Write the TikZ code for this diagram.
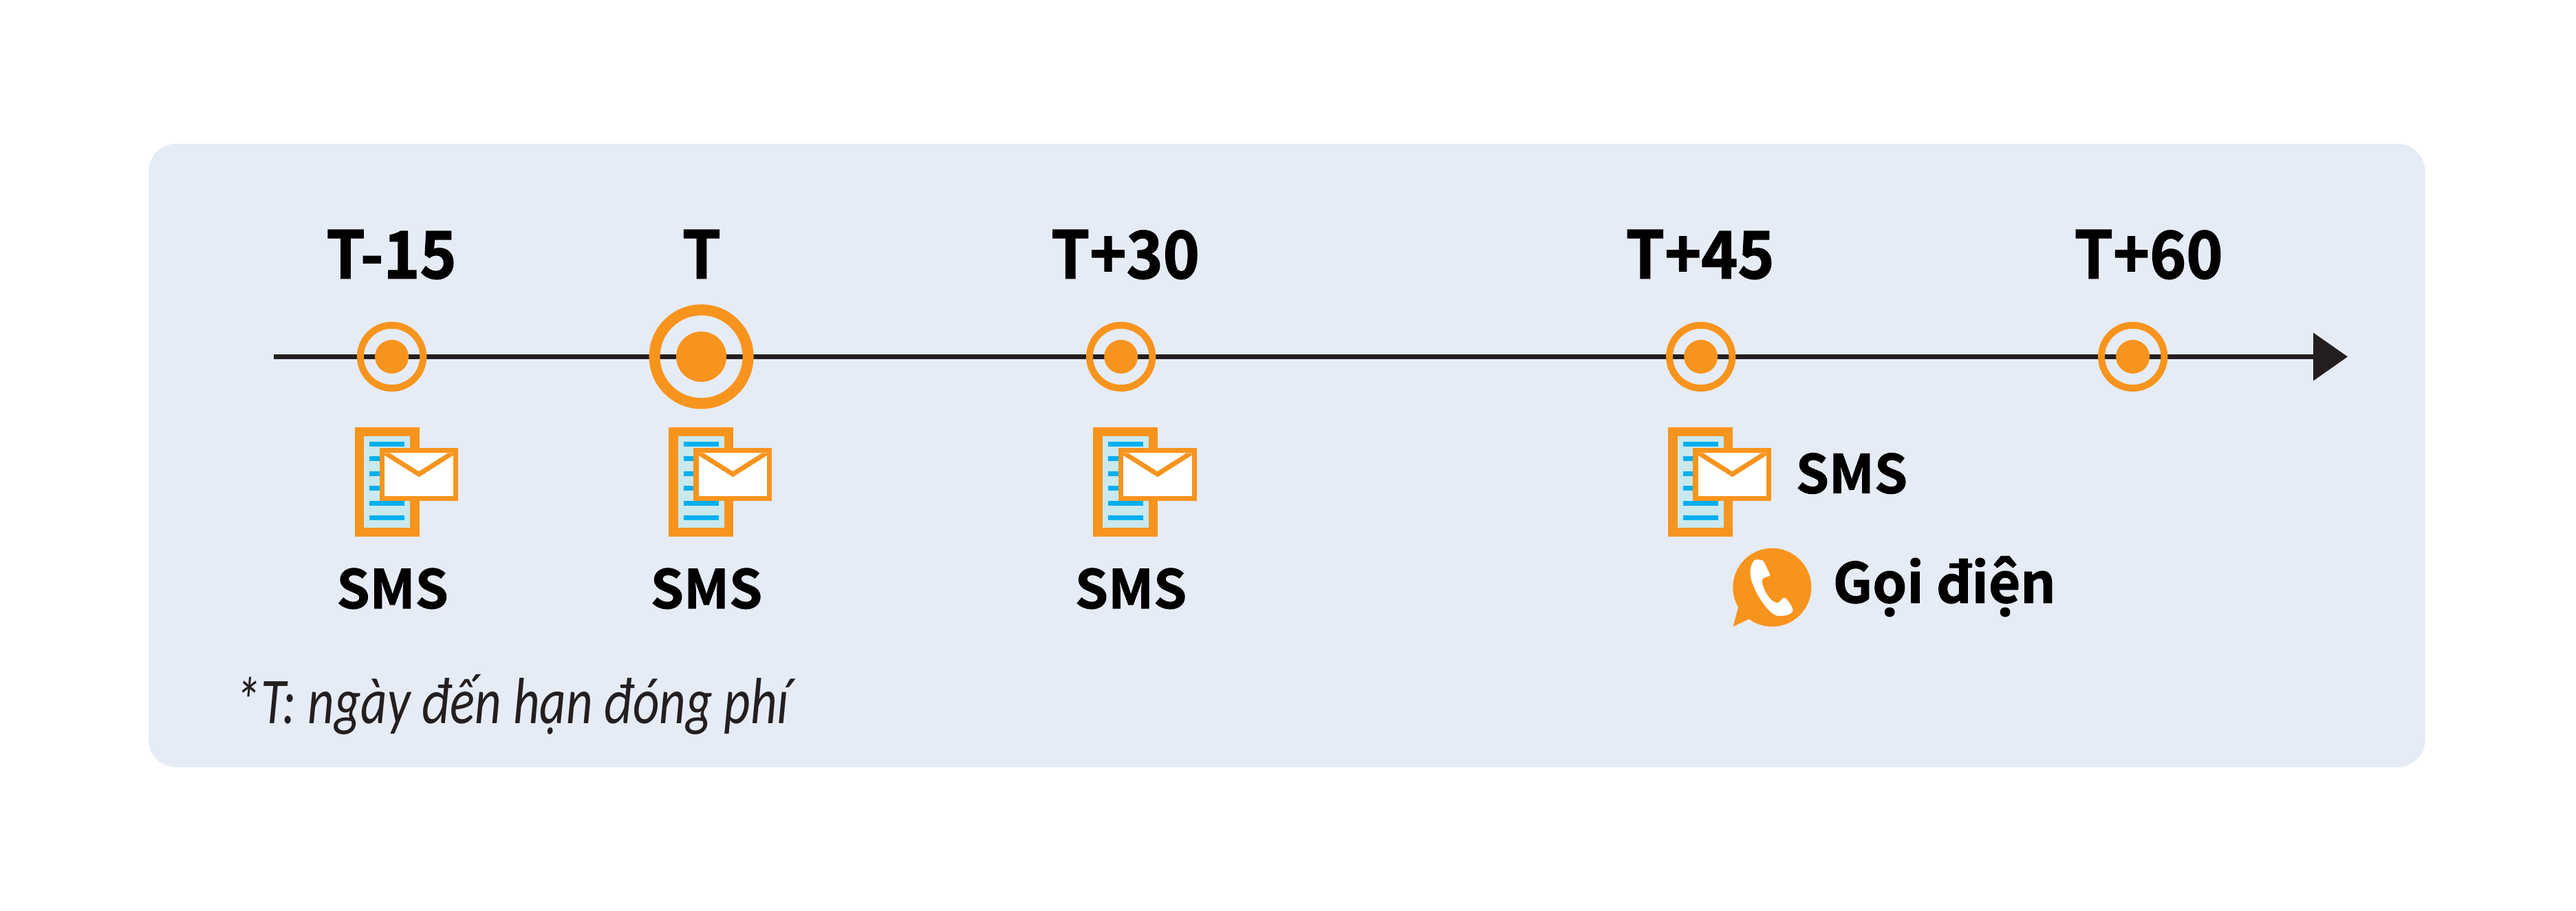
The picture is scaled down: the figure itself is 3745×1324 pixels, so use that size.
\documentclass[tikz,border=0pt]{standalone}
\usepackage{fontspec}
\newfontfamily\labbig{Noto Sans CJK JP Bold}[FakeStretch=0.95,FakeBold=1.6]
\newfontfamily\labmid{Noto Sans CJK JP Bold}[FakeBold=1.3]
\newfontfamily\note{Carlito Italic}[FakeStretch=0.79]
\definecolor{org}{HTML}{F7941E}
\definecolor{pan}{HTML}{E6ECF6}
\definecolor{ink}{HTML}{231F20}
\definecolor{pale}{HTML}{C9E9EE}
\definecolor{cyn}{HTML}{00AEEF}
\tikzset{
  big/.style={font=\labbig\fontsize{27}{27}\selectfont,text=black,inner sep=0pt,anchor=base},
  mid/.style={font=\labmid\fontsize{22}{22}\selectfont,text=black,inner sep=0pt,anchor=base},
  smsicon/.pic={
    \fill[org] (0,0) rectangle (94,159);
    \fill[pale] (13.5,13.5) rectangle (80.5,146);
    \foreach \y in {24.5,45.7,67.2,88.2,110.2,131.9}
      \fill[cyn] (21.5,\y-3.5) rectangle (72.5,\y+3.5);
    \fill[org] (36.2,30.2) rectangle (150.4,107);
    \fill[white] (43.5,37.5) rectangle (143.2,100.5);
    \fill[org] (43.5,41) -- (93.5,72.5) -- (143.2,41) -- (143.2,37.5) -- (43.5,37.5) -- cycle;
    \fill[white] (51,37.5) -- (135.5,37.5) -- (93.3,64.2) -- cycle;
  },
  tick/.pic={
    \draw[org,line width=1mm] (0,0) circle[radius=45.7];
    \fill[org] (0,0) circle[radius=24.5];
  },
}
\begin{document}
\begin{tikzpicture}[x=0.1mm,y=-0.1mm]
\useasboundingbox (0,0) rectangle (3745,1324);
\fill[pan,rounded corners=4mm] (216,209) rectangle (3525.7,1115);
\coordinate (start) at (397.7,518.4);
\coordinate (end) at (3363,518.4);
\draw[ink,line width=0.7mm] (start) -- (end);
\fill[ink] (3363,483.5) -- (3413,518.4) -- (3363,553.5) -- cycle;
\pic at (569.6,518.4) {tick};
\draw[org,line width=1.6mm] (1019.6,518.4) circle[radius=68];
\fill[org] (1019.6,518.4) circle[radius=36.6];
\pic at (1629.7,518.4) {tick};
\pic at (2472.7,518.4) {tick};
\pic at (3100.7,518.4) {tick};
\node[big] (a) at (569,404.5) {T-15};
\node[big] (b) at (1020,404.5) {T};
\node[big] (c) at (1636,404.5) {T+30};
\node[big] (d) at (2471.7,404.5) {T+45};
\node[big] (e) at (3123.6,404.5) {T+60};
\pic at (515.6,620.8) {smsicon};
\pic at (972,620.8) {smsicon};
\pic at (1589.3,620.8) {smsicon};
\pic at (2425,620.8) {smsicon};
\node[mid] (s1) at (570.6,884) {SMS};
\node[mid] (s2) at (1027,884) {SMS};
\node[mid] (s3) at (1644,884) {SMS};
\node[mid,anchor=base west] (s4) at (2610,716.7) {SMS};
\fill[org] (2576.3,853.7) circle[radius=57];
\fill[org] (2527,882.7) -- (2519.6,910.7) -- (2542,900) -- (2560,880) -- cycle;
\fill[white] (2551.4,813.3) .. controls (2562,813) and (2564,814) .. (2566,820)
  -- (2572.6,833.3) .. controls (2574,837) and (2573,837) .. (2569.8,838)
  .. controls (2563,840) and (2561.6,841) .. (2561.6,846)
  .. controls (2565,860) and (2572,872) .. (2582,876)
  .. controls (2588,877) and (2590,870) .. (2592,869.3)
  .. controls (2596,868) and (2597,870) .. (2600,874)
  .. controls (2604,880) and (2607,884) .. (2606.5,888)
  .. controls (2604,893) and (2595,896) .. (2584,895)
  .. controls (2570,892) and (2550,860) .. (2545.3,840)
  .. controls (2543,828) and (2546,818) .. (2551.4,813.3) -- cycle;
\node[mid,anchor=base west,font=\labmid\fontsize{22.8}{22.8}\selectfont] (g) at (2664,876) {Gọi điện};
\node[anchor=base west,inner sep=0pt,text=ink,font=\note\fontsize{27}{27}\selectfont] (n) at (341,1051) {*T: ngày đến hạn đóng phí};
\end{tikzpicture}
\end{document}
